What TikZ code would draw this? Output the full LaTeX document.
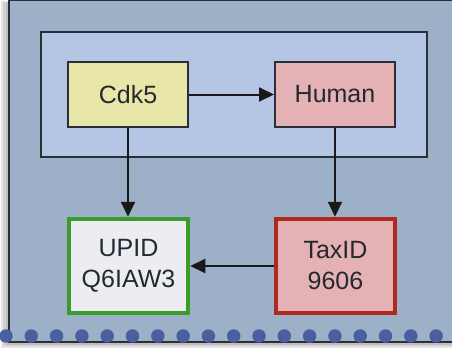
\documentclass[tikz,border=0pt]{standalone}
\usepackage{fontspec}
\setmainfont{Liberation Sans}
\definecolor{outerfill}{HTML}{9CB0C8}
\definecolor{innerfill}{HTML}{B4C6E4}
\definecolor{yel}{HTML}{E8E6A8}
\definecolor{pinkfill}{HTML}{E4B2B4}
\definecolor{upidfill}{HTML}{ECEDF2}
\definecolor{greenb}{HTML}{3E9A2A}
\definecolor{redb}{HTML}{B0281E}
\definecolor{dotc}{HTML}{4A5FA0}
\definecolor{edge}{HTML}{2A2E36}
\definecolor{txt}{HTML}{262830}
\usetikzlibrary{arrows.meta}
\tikzset{
  box/.style={draw=edge, line width=2pt, minimum width=120pt, minimum height=65pt, inner sep=0pt, text=txt, font=\fontsize{25}{31}\selectfont, align=center},
  idbox/.style={line width=4.5pt, minimum width=119pt, minimum height=94pt, inner sep=0pt, text=txt, font=\fontsize{25}{31}\selectfont, align=center},
  conn/.style={draw=black!90, line width=2pt, -{Triangle[length=15pt,width=14pt]}},
  dot/.style={circle, fill=dotc, minimum size=13.5pt, inner sep=0pt}
}
\begin{document}
\begin{tikzpicture}[x=1pt,y=-1pt]
\useasboundingbox (0,0) rectangle (452,349);
\fill[white] (0,0) rectangle (452,349);
% shadow
\fill[black!10] (1,1) rectangle (452,348);
\fill[black!18] (3,2) rectangle (452,346);
\fill[black!25] (6,3) rectangle (452,345);
% outer panel
\filldraw[fill=outerfill, draw=edge, line width=2pt] (9,0) rectangle (460,342);
% inner group
\node[draw=edge, fill=innerfill, line width=2pt, minimum width=386pt, minimum height=125pt, inner sep=0pt] (grp) at (234,94.5) {};
\node[box, fill=yel] (cdk) at (128,94.5) {Cdk5};
\node[box, fill=pinkfill] (human) at (335,94.5) {Human};
\node[idbox, draw=greenb, fill=upidfill] (upid) at (128.5,266) {UPID\\Q6IAW3};
\node[idbox, draw=redb, fill=pinkfill] (tax) at (335.5,266) {TaxID\\9606};
\draw[conn] (cdk.south) -- (cdk.south |- upid.north);
\draw[conn] (cdk.east) -- (human.west);
\draw[conn] (human.south) -- (human.south |- tax.north);
\draw[conn] (tax.west) -- (upid.east);
% dots
\foreach \i in {0,...,17} {
  \node[dot] (d\i) at (6+25.3*\i,336) {};
}
\end{tikzpicture}
\end{document}
